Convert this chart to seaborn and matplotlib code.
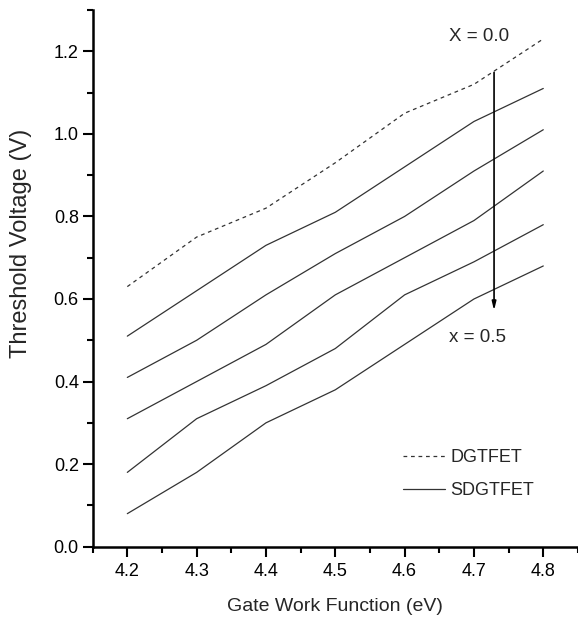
"""
Threshold voltage vs gate work function - DGTFET and SDGTFET curves
"""

import numpy as np
import pandas as pd
import matplotlib
matplotlib.use("Agg")
import matplotlib.pyplot as plt
from matplotlib.lines import Line2D
from matplotlib.ticker import MultipleLocator
import seaborn as sns

# Data
work_function = [4.2, 4.3, 4.4, 4.5, 4.6, 4.7, 4.8]
dgtfet = [0.63, 0.75, 0.82, 0.93, 1.05, 1.12, 1.23]
sdgtfet_1 = [0.51, 0.62, 0.73, 0.81, 0.92, 1.03, 1.11]
sdgtfet_2 = [0.41, 0.50, 0.61, 0.71, 0.80, 0.91, 1.01]
sdgtfet_3 = [0.31, 0.40, 0.49, 0.61, 0.70, 0.79, 0.91]
sdgtfet_4 = [0.18, 0.31, 0.39, 0.48, 0.61, 0.69, 0.78]
sdgtfet_5 = [0.08, 0.18, 0.30, 0.38, 0.49, 0.60, 0.68]
x_ticks = [4.2, 4.3, 4.4, 4.5, 4.6, 4.7, 4.8]
y_ticks = [0.0, 0.2, 0.4, 0.6, 0.8, 1.0, 1.2]

curves = {
    "dg": ("DGTFET", dgtfet),
    "sd1": ("SDGTFET", sdgtfet_1),
    "sd2": ("SDGTFET", sdgtfet_2),
    "sd3": ("SDGTFET", sdgtfet_3),
    "sd4": ("SDGTFET", sdgtfet_4),
    "sd5": ("SDGTFET", sdgtfet_5),
}

rows = []
for key, (device, values) in curves.items():
    for wf, v in zip(work_function, values):
        rows.append({"wf": wf, "vth": v, "curve": key, "device": device})
df = pd.DataFrame(rows)

sns.set_style("ticks")
plt.rcParams["font.family"] = ["Liberation Sans", "DejaVu Sans"]

fig = plt.figure(figsize=(5.78, 6.26), dpi=100)
ax = fig.add_axes([0.1603, 0.1267, 0.8396, 0.8573])

sns.lineplot(data=df, x="wf", y="vth", units="curve", estimator=None,
             style="device", dashes={"DGTFET": (3, 3), "SDGTFET": ""},
             color="#333333", linewidth=0.9, legend=False, ax=ax)

ax.set_xlim(4.15, 4.85)
ax.set_ylim(0.0, 1.3)
ax.xaxis.set_minor_locator(MultipleLocator(0.05))
ax.yaxis.set_minor_locator(MultipleLocator(0.1))
ax.set_xticks(x_ticks)
ax.set_xticklabels([f"{t:.1f}" for t in x_ticks])
ax.set_yticks(y_ticks)
ax.set_yticklabels([f"{t:.1f}" for t in y_ticks])

for side in ["top", "right"]:
    ax.spines[side].set_visible(False)
for side in ["left", "bottom"]:
    ax.spines[side].set_linewidth(1.8)
    ax.spines[side].set_color("black")

ax.tick_params(which="major", direction="out", length=7, width=1.5,
               labelsize=13, colors="black", pad=3)
ax.tick_params(which="minor", direction="out", length=4, width=1.5,
               colors="black")
ax.tick_params(axis="x", which="major", pad=5)

ax.set_xlabel("Gate Work Function (eV)", fontsize=14, labelpad=13)
ax.set_ylabel("Threshold Voltage (V)", fontsize=17)
ax.yaxis.set_label_coords(-0.125, 0.565)

# arrow showing direction of increasing x
ax.annotate("", xy=(4.729, 0.572), xytext=(4.729, 1.149),
            arrowprops=dict(arrowstyle="-|>,head_length=0.5,head_width=0.12",
                            color="black", lw=1.2, shrinkA=0, shrinkB=0))
ax.text(4.664, 1.235, "X = 0.0", fontsize=13.5, va="center", ha="left")
ax.text(4.664, 0.507, "x = 0.5", fontsize=13.5, va="center", ha="left")

handles = [
    Line2D([], [], color="#333333", lw=0.9, linestyle=(0, (3, 3))),
    Line2D([], [], color="#333333", lw=0.9),
]
ax.legend(handles, ["DGTFET", "SDGTFET"], loc="upper left",
          bbox_to_anchor=(0.64, 0.182), frameon=False, fontsize=13,
          handlelength=2.3, handletextpad=0.3, labelspacing=0.9,
          borderpad=0, borderaxespad=0)

fig.savefig("out.png", dpi=100)
